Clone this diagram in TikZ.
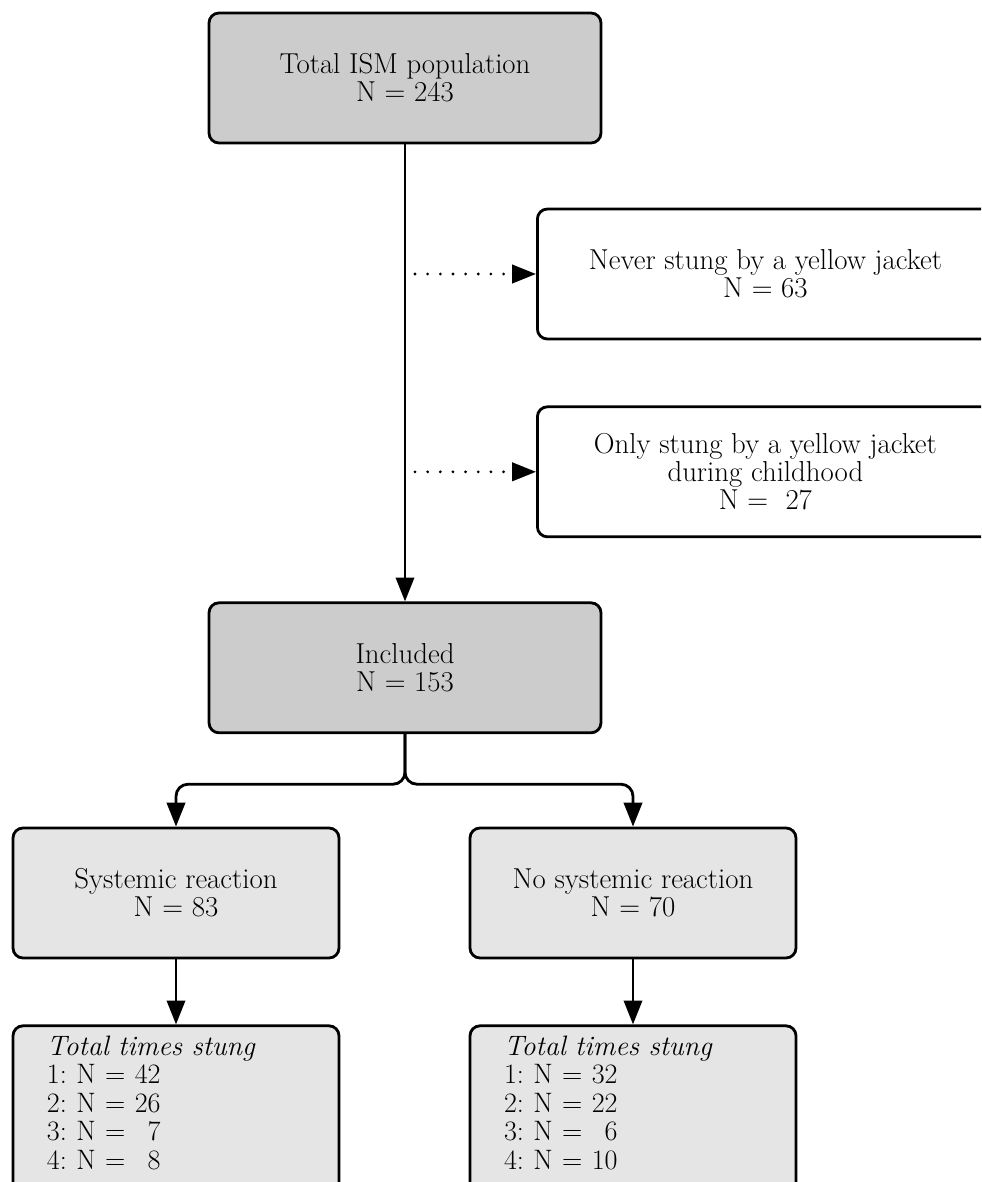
\documentclass[tikz,border=0pt]{standalone}
\usetikzlibrary{positioning,arrows.meta}
\definecolor{darkbox}{gray}{0.80}
\definecolor{lightbox}{gray}{0.90}
\frenchspacing
\tikzset{
  flowbox/.style={draw, line width=2pt, rounded corners=0.25cm, align=center,
    font=\fontsize{20.5}{20}\selectfont, minimum height=3.25cm},
  mainbox/.style={flowbox, fill=darkbox, minimum width=9.8cm},
  exclbox/.style={flowbox, fill=white, minimum width=11.4cm},
  subbox/.style={flowbox, fill=lightbox, minimum width=8.15cm},
  countbox/.style={subbox, align=left, text width=6.45cm, inner xsep=0.8cm,
    inner ysep=0.25cm, font=\fontsize{20}{20.3}\selectfont},
  conn/.style={line width=2pt, -{Triangle[length=17pt,width=13pt]}},
  dotconn/.style={line width=2.2pt, dash pattern=on 0pt off 9pt, line cap=round,
    -{Triangle[length=17pt,width=13pt]}}
}
\newcommand{\boxtail}{\rule[-2cm]{0pt}{2cm}}
\begin{document}
\begin{tikzpicture}
  \useasboundingbox (0,0) rectangle (24.525,-29.55);
  \clip (0,0) rectangle (24.525,-29.55);
  \node (total) [mainbox] at (10.125,-1.95) {Total ISM population\\N = 243};
  \node (included) [mainbox, below=11.425cm of total] {Included\\N = 153};
  \node (never) [exclbox, anchor=west] at (13.4,-6.85) {Never stung by a yellow jacket\\N = 63};
  \node (child) [exclbox, below=1.625cm of never] {Only stung by a yellow jacket\\during childhood\\N =\hspace{0.6em}27};
  \node (sys) [subbox] at (4.4,-22.325) {Systemic reaction\\N = 83};
  \node (nosys) [subbox] at (15.825,-22.325) {No systemic reaction\\N = 70};
  \node (syscount) [countbox, below=1.625cm of sys] {\textit{Total times stung}\\1: N = 42\\2: N = 26\\3: N = \phantom{0}7\\4: N = \phantom{0}8\boxtail};
  \node (nosyscount) [countbox, below=1.625cm of nosys] {\textit{Total times stung}\\1: N = 32\\2: N = 22\\3: N = \phantom{0}6\\4: N = 10\boxtail};
  \coordinate (split) at ([yshift=-1.25cm]included.south);
  \coordinate (d1) at ([xshift=0.25cm]total.south |- never.west);
  \coordinate (d2) at ([xshift=0.25cm]total.south |- child.west);
  \draw[conn] (total.south) -- (included.north);
  \draw[dotconn] (d1) -- (never.west);
  \draw[dotconn] (d2) -- (child.west);
  \draw[conn, rounded corners=0.3cm] (included.south) -- (split) -| (sys.north);
  \draw[conn, rounded corners=0.3cm] (included.south) -- (split) -| (nosys.north);
  \draw[conn] (sys.south) -- (syscount.north);
  \draw[conn] (nosys.south) -- (nosyscount.north);
\end{tikzpicture}
\end{document}
